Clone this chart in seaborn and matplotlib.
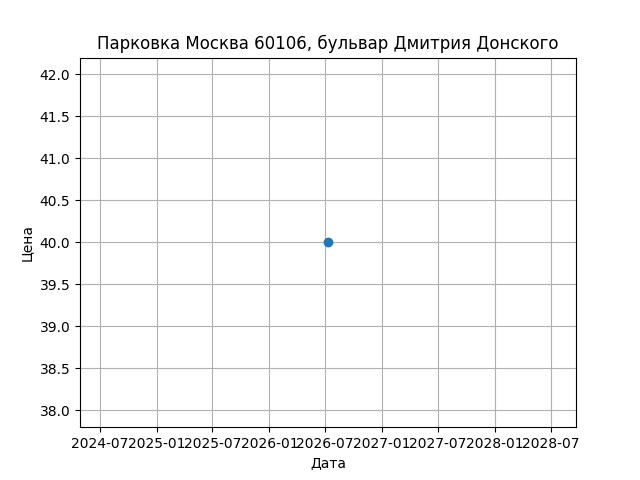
import pandas as pd
import matplotlib
matplotlib.use('Agg')
import matplotlib.pyplot as plt
import seaborn as sns

# data
dates = pd.to_datetime(['2026-07-10'])
prices = [40]
title = 'Парковка Москва 60106, бульвар Дмитрия Донского'

df = pd.DataFrame({'date': dates, 'price': prices})

fig, ax = plt.subplots(figsize=(6.4, 4.8), dpi=100)
sns.scatterplot(data=df, x='date', y='price', ax=ax, s=36,
                color='#1f77b4', edgecolor='#1f77b4', linewidth=1, zorder=3)
ax.set_title(title)
ax.set_xlabel('Дата')
ax.set_ylabel('Цена')
ax.grid(True)
plt.savefig('out.png')
plt.close()
